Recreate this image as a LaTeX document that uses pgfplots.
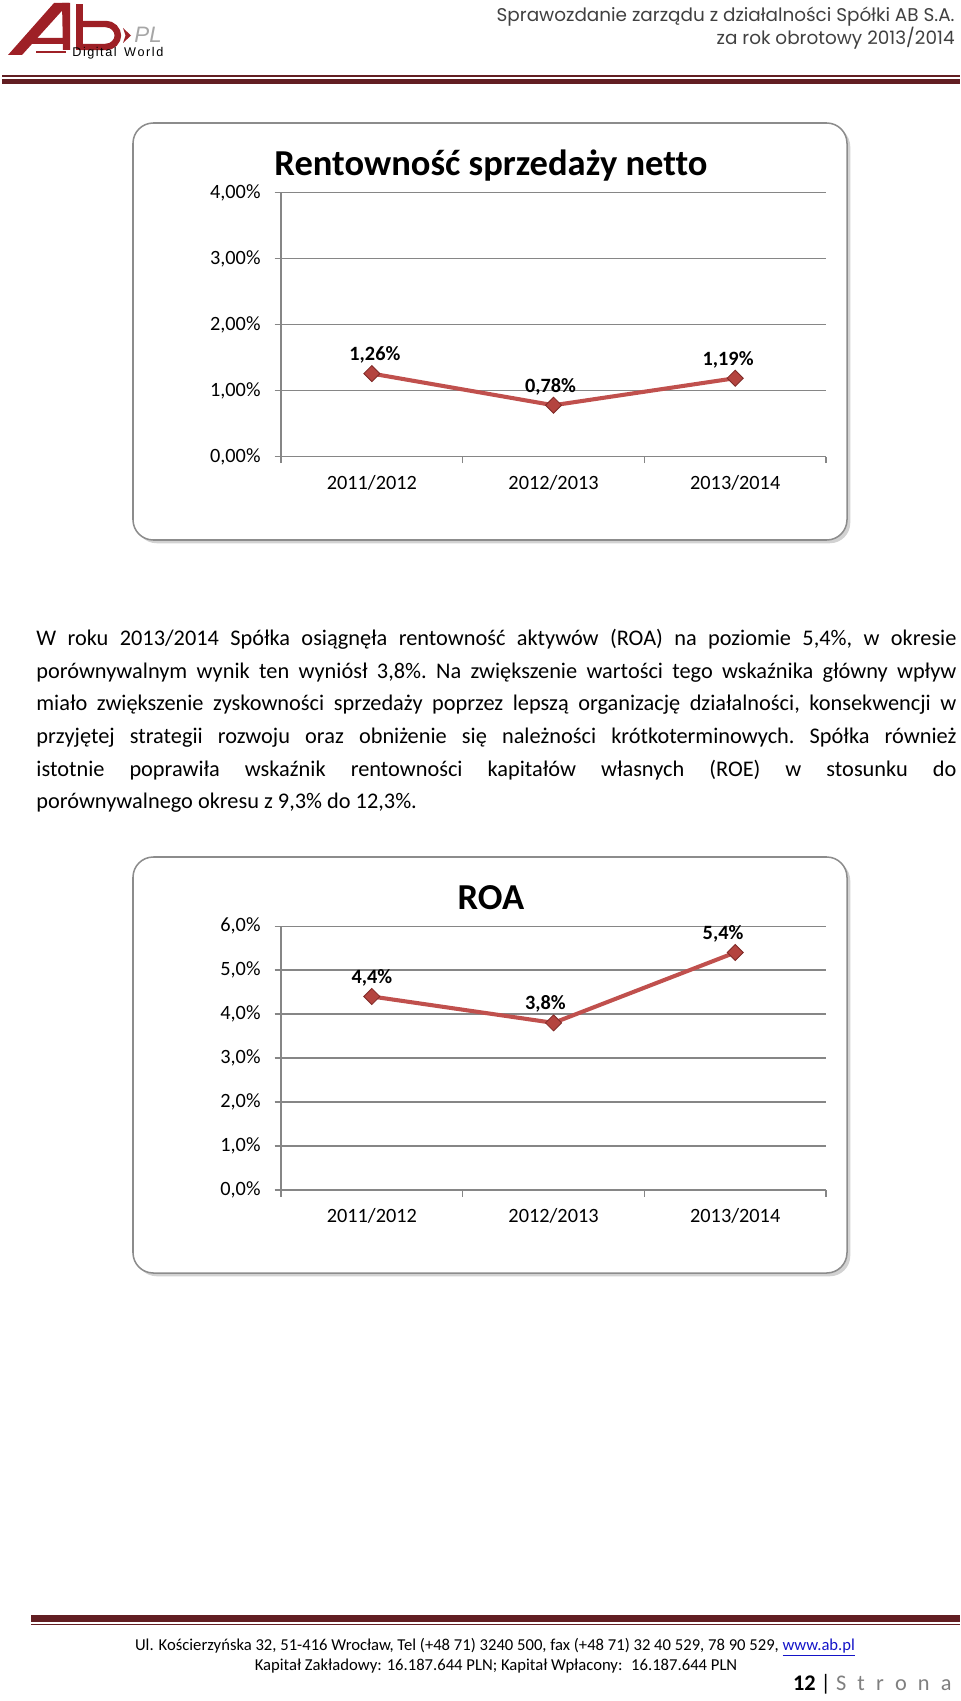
\documentclass[border=0pt]{standalone}
\usepackage{pgfplots}
\pgfplotsset{compat=1.18}
\usepackage{pgfplotstable}
\usepackage{graphicx}
\usepackage{fontspec}
\setmainfont{Carlito}[Ligatures=NoCommon]
\newfontfamily\hdrfont{Poppins}
\newfontfamily\logofont{Liberation Sans}
\usetikzlibrary{shadows}

\definecolor{exred}{HTML}{C0504D}
\definecolor{mkfill}{HTML}{B4443F}
\definecolor{mkdraw}{HTML}{7F2A27}
\definecolor{gridc}{HTML}{868686}
\definecolor{boxc}{HTML}{8C8C8C}
\definecolor{maroonc}{RGB}{98,30,34}
\definecolor{logored}{RGB}{158,32,38}
\definecolor{hdrgray}{RGB}{64,64,64}
\definecolor{linkblue}{RGB}{20,20,200}
\definecolor{stronagray}{RGB}{127,127,127}

\newlength\hdrw
\settowidth\hdrw{\hdrfont\fontsize{10}{12}\selectfont Sprawozdanie zarządu z działalności Spółki AB S.A.}
\pgfmathsetmacro\hdrsize{10*225.6/\hdrw}

\pgfplotstableread{
x y dx
0 1.26 1.5
1 0.78 -1.5
2 1.19 -3.5
}\rsn
\pgfplotstableread{
x y dx
0 4.4 0
1 3.8 -4
2 5.4 -6
}\roa

\pgfplotsset{
  /pgf/number format/assume math mode=true,
  chart/.style={
    scale only axis, width=268.5pt, height=130pt,
    xmin=-0.5, xmax=2.5, clip=false,
    axis lines*=left,
    axis line style={gridc, line width=0.6pt},
    xtick={-0.5,0.5,1.5,2.5}, xticklabels={,,,},
    extra x ticks={0,1,2},
    extra x tick labels={2011/2012,2012/2013,2013/2014},
    extra x tick style={major tick length=0pt},
    xticklabel style={font=\fontsize{10}{12}\selectfont, anchor=base, inner sep=0pt, yshift=-16.1pt},
    yticklabel style={font=\fontsize{10}{12}\selectfont, anchor=east, inner sep=0pt, xshift=-6.7pt},
    tick align=outside, major tick length=3.2pt,
    tick style={gridc, line width=0.6pt},
    ymajorgrids, grid style={gridc, line width=0.6pt},
  },
  serie/.style={
    exred, line width=2pt, mark=square*, mark size=2.8pt,
    mark options={rotate=45, fill=mkfill, draw=mkdraw, line width=0.4pt, solid},
    point meta=y,
    visualization depends on={\thisrow{dx} \as \dx},
    every node near coord/.append style={font=\bfseries\fontsize{10}{12}\selectfont, anchor=base, yshift=6.4pt, xshift=\dx pt, text=black, inner sep=0pt},
  },
}

\begin{document}
\begin{tikzpicture}
\begin{scope}[x=0.4926pt, y=-0.4926pt]
\useasboundingbox (0,0) rectangle (960,1701);
% ---------- header ----------
\fill[logored] (8,55) -- (54,3) -- (69,3) -- (22,55) -- cycle;
\fill[logored] (62,3) -- (70,3) -- (70,50) -- (63,50) -- cycle;
\fill[logored] (33,38) -- (64,38) -- (64,44) -- (28,44) -- cycle;
\fill[logored] (36,51) -- (66,51) -- (66,53) -- (36,53) -- cycle;
\fill[logored] (76,4) rectangle (83,50);
\draw[logored, line width=3.2pt, rounded corners=6pt] (80,24) -- (118,24) -- (118,47) -- (80,47);
\fill[logored] (123,28) -- (131,35.5) -- (123,43) -- (125.5,35.5) -- cycle;
\node[anchor=base west, inner sep=0pt, text=black!35, font=\logofont\itshape\fontsize{11}{11}\selectfont] at (134,43) {PL};
\node[anchor=base west, inner sep=0pt] at (72,57) {\resizebox{44.8pt}{!}{\logofont D\hspace{0.12em}i\hspace{0.12em}g\hspace{0.12em}i\hspace{0.12em}t\hspace{0.12em}a\hspace{0.12em}l\hspace{0.6em}W\hspace{0.12em}o\hspace{0.12em}r\hspace{0.12em}l\hspace{0.12em}d}};
\node[anchor=base east, inner sep=0pt, text=hdrgray, font=\hdrfont\fontsize{\hdrsize}{12}\selectfont] at (955,22) {Sprawozdanie zarządu z działalności Spółki AB S.A.};
\node[anchor=base east, inner sep=0pt, text=hdrgray, font=\hdrfont\fontsize{\hdrsize}{12}\selectfont] at (955,45) {za rok obrotowy 2013/2014};
\fill[maroonc] (2,75.5) rectangle (960,76.8);
\fill[maroonc] (2,79) rectangle (960,84.5);
% ---------- chart boxes ----------
\draw[boxc, line width=0.75pt, fill=white, rounded corners=10pt,
      drop shadow={shadow xshift=1.6pt, shadow yshift=-1.6pt, fill=black!35}] (133,123) rectangle (847,540);
\draw[boxc, line width=0.75pt, fill=white, rounded corners=10pt,
      drop shadow={shadow xshift=1.6pt, shadow yshift=-1.6pt, fill=black!35}] (133,857) rectangle (847,1273);
\node[anchor=base, inner sep=0pt, font=\bfseries\fontsize{18}{22}\selectfont] at (491,175) {Rentowność sprzedaży netto};
\node[anchor=base, inner sep=0pt, font=\bfseries\fontsize{18}{22}\selectfont] at (491,909) {ROA};
% ---------- paragraph ----------
\node[anchor=base west, inner sep=0pt] at (36,645.7) {\parbox[t]{453.2pt}{\fontsize{11}{16.06}\selectfont
\frenchspacing\parindent=0pt\hyphenpenalty=10000\tolerance=10000
W roku 2013/2014 Spółka osiągnęła rentowność aktywów (ROA) na poziomie 5,4\%, w okresie\linebreak
porównywalnym wynik ten wyniósł 3,8\%. Na zwiększenie wartości tego wskaźnika główny wpływ\linebreak
miało zwiększenie zyskowności sprzedaży poprzez lepszą organizację działalności, konsekwencji w\linebreak
przyjętej strategii rozwoju oraz obniżenie się należności krótkoterminowych. Spółka również\linebreak
istotnie poprawiła wskaźnik rentowności kapitałów własnych (ROE) w stosunku do\linebreak
porównywalnego okresu z 9,3\% do 12,3\%.}};
% ---------- footer ----------
\fill[maroonc] (31,1615) rectangle (960,1622);
\fill[maroonc] (31,1623.5) rectangle (960,1624.8);
\node[anchor=base, inner sep=0pt, font=\fontsize{8.2}{10}\selectfont] at (495,1650) {Ul. Kościerzyńska 32, 51-416 Wrocław, Tel (+48 71) 3240 500, fax (+48 71) 32 40 529, 78 90 529, \textcolor{linkblue}{\underline{www.ab.pl}}};
\node[anchor=base, inner sep=0pt, font=\fontsize{8.2}{10}\selectfont] at (496,1670) {Kapitał Zakładowy: 16.187.644 PLN; Kapitał Wpłacony: \ 16.187.644 PLN};
\node[anchor=base east, inner sep=0pt, font=\fontsize{11}{13}\selectfont] at (952,1690) {\textbf{12} | \textcolor{stronagray}{S\hspace{5.5pt}t\hspace{5.5pt}r\hspace{5.5pt}o\hspace{5.5pt}n\hspace{5.5pt}a}};
\coordinate (ax1) at (281,456.7);
\coordinate (ax2) at (281,1190);
\end{scope}

\begin{axis}[chart, at={(ax1)}, anchor=south west,
  ymin=0, ymax=4, ytick={0,1,2,3,4},
  yticklabel={\pgfmathprintnumber[fixed,fixed zerofill,precision=2,use comma]{\tick}\%}]
\addplot[serie, nodes near coords={\pgfmathprintnumber[fixed,fixed zerofill,precision=2,use comma]{\pgfplotspointmeta}\%}]
  table[x=x, y=y] {\rsn};
\end{axis}

\begin{axis}[chart, at={(ax2)}, anchor=south west,
  ymin=0, ymax=6, ytick={0,1,2,3,4,5,6},
  yticklabel={\pgfmathprintnumber[fixed,fixed zerofill,precision=1,use comma]{\tick}\%}]
\addplot[serie, nodes near coords={\pgfmathprintnumber[fixed,fixed zerofill,precision=1,use comma]{\pgfplotspointmeta}\%}]
  table[x=x, y=y] {\roa};
\end{axis}
\end{tikzpicture}
\end{document}
